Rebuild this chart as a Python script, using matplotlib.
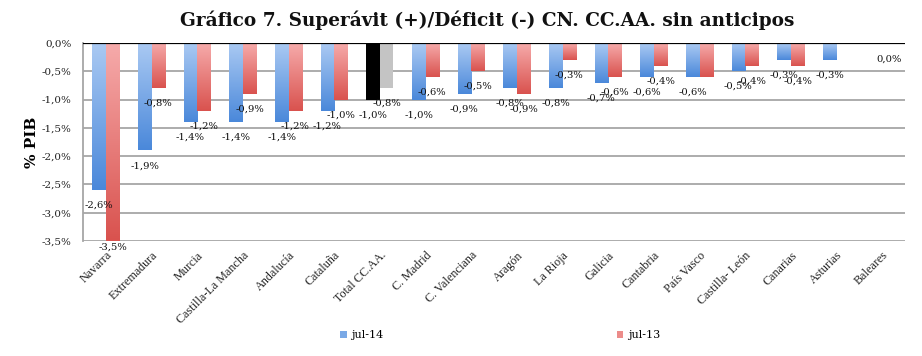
import matplotlib
matplotlib.use("Agg")
import matplotlib.pyplot as plt
import numpy as np
from matplotlib.colors import LinearSegmentedColormap
from matplotlib.patches import Patch

categories = ["Navarra", "Extremadura", "Murcia", "Castilla-La Mancha", "Andalucía",
              "Cataluña", "Total CC.AA.", "C. Madrid", "C. Valenciana", "Aragón",
              "La Rioja", "Galicia", "Cantabria", "País Vasco", "Castilla- León",
              "Canarias", "Asturias", "Baleares"]
jul14 = [-2.6, -1.9, -1.4, -1.4, -1.4, -1.2, -1.0, -1.0, -0.9, -0.8,
         -0.8, -0.7, -0.6, -0.6, -0.5, -0.3, -0.3, -0.01]
jul13 = [-3.5, -0.8, -1.2, -0.9, -1.2, -1.0, -0.8, -0.6, -0.5, -0.9,
         -0.3, -0.6, -0.4, -0.6, -0.4, -0.4, -0.01, -0.01]
series_names = ["jul-14", "jul-13"]
total_name = "Total CC.AA."
skip14 = ["Baleares"]
skip13 = ["Asturias", "País Vasco"]
yticks = [0.0, -0.5, -1.0, -1.5, -2.0, -2.5, -3.0, -3.5]

W, H = 922, 356
fig = plt.figure(figsize=(W / 100, H / 100), dpi=100)
ax = fig.add_axes([83 / W, 1 - 241 / H, (905 - 83) / W, (241 - 43) / H])

blue_cmap = LinearSegmentedColormap.from_list("b", ["#abcaf3", "#4a88da"])
red_cmap = LinearSegmentedColormap.from_list("r", ["#f6abab", "#d9524e"])

x = np.arange(len(categories))
bw = 0.295
grad = np.linspace(0, 1, 256).reshape(-1, 1)

b1 = ax.bar(x - bw / 2, jul14, bw, facecolor="none", edgecolor="none", zorder=3)
b2 = ax.bar(x + bw / 2, jul13, bw, facecolor="none", edgecolor="none", zorder=3)

ti = categories.index(total_name)
for bars, cmap, solid in [(b1, blue_cmap, "#000000"), (b2, red_cmap, "#c4c4c4")]:
    for i, r in enumerate(bars):
        x0, y0 = r.get_x(), r.get_y()
        w, h = r.get_width(), r.get_height()
        if i == ti:
            r.set_facecolor(solid)
            continue
        ylo, yhi = min(y0, y0 + h), max(y0, y0 + h)
        im = ax.imshow(grad, cmap=cmap, aspect="auto", origin="upper",
                       extent=[x0, x0 + w, ylo, yhi], zorder=3)
        im.set_clip_path(r)

ax.set_xlim(-0.5, len(categories) - 0.5)
ax.set_ylim(-3.5, 0.0)
ax.set_yticks(yticks)
ax.set_yticklabels([f"{v:.1f}%".replace(".", ",") for v in yticks],
                   fontfamily="DejaVu Serif", fontsize=7.5, color="#222222")
ax.tick_params(axis="y", length=0, pad=8)
ax.grid(axis="y", color="#a6a6a6", lw=1.3, zorder=1)
ax.set_axisbelow(True)
ax.axhline(0, color="black", lw=1.6, zorder=5)
for s in ["top", "right", "bottom"]:
    ax.spines[s].set_visible(False)
ax.spines["left"].set_color("#a6a6a6")
ax.spines["left"].set_linewidth(1.3)

ax.set_xticks(x)
ax.set_xticklabels(categories, rotation=45, ha="right", rotation_mode="anchor",
                   fontfamily="Liberation Serif", fontsize=8.7, color="#222222")
ax.tick_params(axis="x", length=0, pad=6)

def lab(v):
    s = f"{v:.1f}%".replace(".", ",")
    return "0,0%" if s == "-0,0%" else s

for bars, vals, skip in [(b1, jul14, skip14), (b2, jul13, skip13)]:
    for i, (r, v) in enumerate(zip(bars, vals)):
        if categories[i] in skip:
            continue
        ly = max(v - 0.27, -3.61)
        ax.text(r.get_x() + r.get_width() / 2, ly, lab(v),
                ha="center", va="center", fontsize=7.2,
                fontfamily="DejaVu Serif", color="#111111", zorder=6,
                clip_on=False)

ax.set_ylabel("% PIB", fontfamily="DejaVu Serif", fontweight="bold", fontsize=11,
              labelpad=2)

fig.text(0.528, 0.944, "Gráfico 7. Superávit (+)/Déficit (-) CN. CC.AA. sin anticipos",
         ha="center", va="center", fontfamily="DejaVu Serif", fontweight="bold",
         fontsize=13.3, color="#111111")

handles = [Patch(facecolor="#7aa9e6"), Patch(facecolor="#ec8c8a")]
fig.legend(handles, series_names, loc="center", bbox_to_anchor=(500 / W, 1 - 335 / H),
           ncol=2, frameon=False, handlelength=0.6, handleheight=0.6,
           handletextpad=0.4, columnspacing=21.0,
           prop={"family": "DejaVu Serif", "size": 8})

fig.savefig("out.png", dpi=100)
